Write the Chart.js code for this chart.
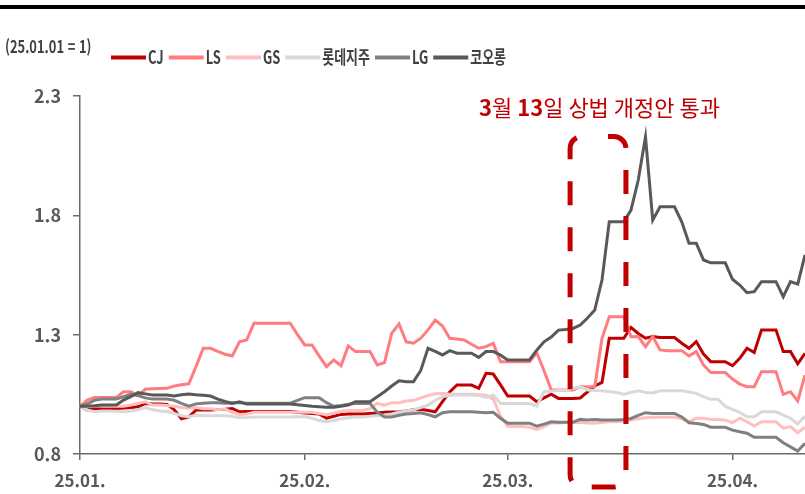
<!DOCTYPE html>
<html lang="ko">
<head>
<meta charset="utf-8">
<script src="https://cdn.jsdelivr.net/npm/chart.js@4.4.1/dist/chart.umd.min.js"></script>
<style>
  html, body { margin: 0; padding: 0; background: #fff; }
</style>
</head>
<body>
<canvas id="chart" width="805" height="494"></canvas>
<script>
const ctx = document.querySelector('#chart')

// daily axis 25.01.01 ~ 25.04.11 (holidays / weekends carry the last close)
const days = []
for (let i = 0; i < 101; i++) {
    const d = new Date(2025, 0, 1 + i)
    const mm = String(d.getMonth() + 1).padStart(2, '0')
    const dd = String(d.getDate()).padStart(2, '0')
    days.push('25.' + mm + '.' + dd)
}

const names = ['CJ', 'LS', 'GS', '롯데지주', 'LG', '코오롱']
const colors = ['#C00000', '#FF7C80', '#FFBFBF', '#D9D9D9', '#808080', '#595959']

const cj = [1.000,0.985,0.990,0.991,0.991,0.991,0.993,0.995,0.998,1.012,
    1.010,1.010,1.008,0.985,0.947,0.955,0.984,0.984,0.984,0.986,
    0.988,0.991,0.977,0.978,0.978,0.978,0.978,0.978,0.978,0.978,
    0.975,0.972,0.970,0.968,0.950,0.958,0.966,0.968,0.968,0.968,
    0.970,0.972,0.975,0.976,0.977,0.980,0.985,0.987,0.982,0.977,
    1.019,1.060,1.089,1.089,1.089,1.075,1.138,1.135,1.090,1.043,
    1.043,1.043,1.043,1.019,1.035,1.051,1.033,1.033,1.033,1.035,
    1.060,1.085,1.100,1.285,1.285,1.285,1.330,1.305,1.285,1.292,
    1.288,1.288,1.288,1.264,1.243,1.271,1.219,1.187,1.187,1.187,
    1.170,1.201,1.243,1.225,1.320,1.320,1.320,1.229,1.229,1.178,
    1.222]

const ls = [1.000,1.026,1.037,1.037,1.037,1.037,1.061,1.061,1.045,1.071,
    1.073,1.074,1.075,1.085,1.090,1.094,1.166,1.243,1.243,1.230,
    1.218,1.211,1.270,1.278,1.348,1.348,1.348,1.348,1.348,1.348,
    1.300,1.257,1.257,1.210,1.166,1.194,1.170,1.253,1.229,1.229,
    1.229,1.173,1.183,1.306,1.345,1.270,1.264,1.285,1.320,1.361,
    1.336,1.285,1.282,1.278,1.260,1.243,1.250,1.264,1.187,1.187,
    1.187,1.187,1.187,1.224,1.150,1.068,1.068,1.068,1.068,1.082,
    1.082,1.082,1.285,1.375,1.375,1.375,1.291,1.292,1.250,1.292,
    1.236,1.233,1.233,1.233,1.211,1.229,1.173,1.141,1.141,1.141,
    1.114,1.093,1.082,1.082,1.145,1.145,1.145,1.050,1.061,1.022,
    1.130]

const gs = [1.000,1.000,1.002,1.000,1.000,1.000,1.000,1.005,1.012,1.019,
    1.005,1.005,1.003,1.000,0.995,0.992,0.995,0.990,0.990,0.985,
    0.988,0.975,0.966,0.968,0.975,0.975,0.975,0.975,0.975,0.975,
    0.975,0.975,0.975,0.970,0.965,0.972,0.978,0.982,0.982,0.982,
    0.990,1.012,1.005,1.015,1.015,1.022,1.025,1.035,1.045,1.052,
    1.054,1.050,1.050,1.050,1.050,1.048,1.046,1.030,0.960,0.915,
    0.915,0.915,0.912,0.903,0.915,0.929,0.930,0.932,0.932,0.932,
    0.930,0.929,0.932,0.935,0.935,0.938,0.942,0.948,0.952,0.954,
    0.954,0.954,0.954,0.948,0.935,0.950,0.950,0.945,0.945,0.942,
    0.931,0.950,0.935,0.917,0.935,0.935,0.935,0.908,0.915,0.889,
    0.912]

const lotte = [1.000,0.985,0.977,0.980,0.980,0.979,0.977,0.980,0.985,0.995,
    0.985,0.980,0.978,0.970,0.960,0.956,0.962,0.960,0.960,0.960,
    0.960,0.958,0.952,0.953,0.955,0.955,0.955,0.955,0.955,0.955,
    0.956,0.956,0.950,0.940,0.935,0.940,0.948,0.952,0.955,0.955,
    0.958,0.960,0.963,0.968,0.975,0.980,0.985,0.995,1.005,1.025,
    1.040,1.045,1.047,1.047,1.047,1.045,1.037,1.047,1.012,1.012,
    1.012,1.012,1.012,1.001,1.061,1.063,1.066,1.068,1.075,1.082,
    1.068,1.066,1.065,1.062,1.058,1.051,1.058,1.065,1.058,1.056,
    1.065,1.065,1.065,1.065,1.060,1.054,1.040,1.029,1.029,1.000,
    0.987,0.975,0.956,0.956,0.977,0.977,0.977,0.963,0.950,0.926,
    0.959]

const lg = [1.000,1.010,1.025,1.030,1.030,1.030,1.040,1.050,1.045,1.035,
    1.030,1.030,1.030,1.025,1.012,1.000,1.010,1.013,1.015,1.015,
    1.013,1.015,1.015,1.013,1.013,1.013,1.013,1.013,1.013,1.013,
    1.025,1.036,1.036,1.036,1.015,1.000,1.003,1.008,1.012,1.012,
    1.012,0.975,0.955,0.955,0.962,0.968,0.970,0.973,0.965,0.956,
    0.973,0.977,0.977,0.977,0.977,0.975,0.973,0.975,0.950,0.929,
    0.929,0.929,0.929,0.917,0.925,0.935,0.933,0.933,0.933,0.945,
    0.942,0.945,0.942,0.942,0.942,0.945,0.949,0.962,0.973,0.970,
    0.970,0.970,0.970,0.955,0.931,0.928,0.924,0.912,0.912,0.912,
    0.900,0.893,0.887,0.870,0.870,0.870,0.870,0.847,0.830,0.812,
    0.845]

const kolon = [1.000,1.000,1.002,1.005,1.005,1.005,1.026,1.040,1.057,1.052,
    1.047,1.047,1.047,1.043,1.048,1.051,1.048,1.046,1.043,1.030,
    1.020,1.012,1.019,1.009,1.009,1.009,1.009,1.009,1.009,1.009,
    1.006,1.003,1.000,0.998,0.996,0.996,1.000,1.005,1.019,1.019,
    1.019,1.040,1.061,1.085,1.107,1.103,1.103,1.150,1.243,1.230,
    1.215,1.233,1.222,1.222,1.222,1.205,1.229,1.229,1.215,1.194,
    1.194,1.194,1.194,1.235,1.270,1.290,1.319,1.322,1.326,1.340,
    1.370,1.403,1.529,1.773,1.773,1.773,1.822,1.948,2.129,1.780,
    1.836,1.836,1.836,1.773,1.683,1.683,1.613,1.601,1.601,1.601,
    1.532,1.508,1.476,1.480,1.522,1.522,1.522,1.459,1.522,1.512,
    1.634]

const series = [cj, ls, gs, lotte, lg, kolon]
const yTicks = [0.8, 1.3, 1.8, 2.3]
const baseNote = '(25.01.01 = 1)'
const noteParts = [['3', 'bold'], ['월 ', 'normal'], ['13', 'bold'], ['일 상법 개정안 통과', 'normal']]
const boxRange = [67.6, 75.3]   // around 3/13 on the day axis

const FONT = '"Noto Sans CJK KR", "Noto Sans", sans-serif'
const axisColor = '#6b6b6b'
const textColor = '#595959'
const red = '#C00000'

Chart.defaults.font.family = FONT

function narrowText(c, text, x, y, k) {
    const w = c.measureText(text).width * k
    c.save()
    c.translate(x, y)
    c.scale(k, 1)
    c.fillText(text, 0, 0)
    c.restore()
    return w
}

const headerPlugin = {
    id: 'header',
    afterDraw(chart) {
        const c = chart.ctx
        c.save()
        c.fillStyle = '#000'
        c.fillRect(0, 5, chart.width, 4)

        c.textBaseline = 'middle'
        c.textAlign = 'left'
        c.font = 'bold 17px ' + FONT
        c.fillStyle = '#404040'
        narrowText(c, baseNote, 5, 47, 0.76)

        let x = 111
        c.font = 'bold 18px ' + FONT
        chart.data.datasets.forEach(ds => {
            c.fillStyle = ds.borderColor
            c.fillRect(x, 55.5, 35, 4)
            x += 37
            c.fillStyle = '#404040'
            x += narrowText(c, ds.label, x, 57, 0.72) + 5
        })
        c.restore()
    }
}

const boxPlugin = {
    id: 'lawBox',
    afterDatasetsDraw(chart) {
        const c = chart.ctx
        const xs = chart.scales.x
        const ys = chart.scales.y
        const x0 = xs.getPixelForValue(boxRange[0])
        const x1 = xs.getPixelForValue(boxRange[1])
        const y0 = ys.getPixelForValue(2.13)
        const y1 = chart.chartArea.bottom + 33
        const mid = (x0 + x1) / 2
        const r = 12

        c.save()
        c.strokeStyle = red
        c.lineWidth = 5
        c.setLineDash([24, 22])
        c.lineDashOffset = 36
        c.beginPath()
        c.moveTo(mid, y0)
        c.arcTo(x1, y0, x1, y1, r)
        c.arcTo(x1, y1, x0, y1, r)
        c.arcTo(x0, y1, x0, y0, r)
        c.arcTo(x0, y0, mid, y0, r)
        c.closePath()
        c.stroke()

        // caption
        c.setLineDash([])
        c.fillStyle = red
        c.textBaseline = 'middle'
        c.textAlign = 'left'
        let total = 0
        noteParts.forEach(p => {
            c.font = p[1] + ' 22px ' + FONT
            total += c.measureText(p[0]).width
        })
        let tx = mid + 1.5 - total / 2
        noteParts.forEach(p => {
            c.font = p[1] + ' 22px ' + FONT
            c.fillText(p[0], tx, 108)
            tx += c.measureText(p[0]).width
        })
        c.restore()
    }
}

const datasets = names.map((name, i) => {
    return {
        label: name,
        data: series[i],
        borderColor: colors[i],
        backgroundColor: colors[i],
        borderWidth: 3,
        pointRadius: 0,
        tension: 0,
        order: names.length - i
    }
})

const config = {
    type: 'line',
    data: {
        labels: days,
        datasets: datasets
    },
    options: {
        responsive: false,
        animation: false,
        layout: {
            padding: { top: 96, right: 0, bottom: 0, left: 0 }
        },
        plugins: {
            legend: { display: false },
            tooltip: { enabled: false }
        },
        scales: {
            x: {
                offset: false,
                afterFit: axis => {
                    axis.height = 40
                    axis.paddingRight = 0
                },
                grid: {
                    drawOnChartArea: false,
                    tickLength: 6,
                    lineWidth: 1.5,
                    color: c => (c.tick && c.tick.label) ? axisColor : 'rgba(0,0,0,0)'
                },
                border: { color: axisColor, width: 1.5 },
                ticks: {
                    autoSkip: false,
                    maxRotation: 0,
                    padding: 10,
                    color: textColor,
                    font: { size: 17, weight: 'bold' },
                    callback: function (value) {
                        const lab = this.getLabelForValue(value)
                        return lab.endsWith('.01') ? lab.slice(0, 6) : ''
                    }
                }
            },
            y: {
                min: 0.8,
                max: 2.3,
                afterFit: axis => { axis.width = 80 },
                afterBuildTicks: axis => {
                    axis.ticks = yTicks.map(v => ({ value: v }))
                },
                grid: {
                    drawOnChartArea: false,
                    tickLength: 7,
                    lineWidth: 1.5,
                    color: axisColor
                },
                border: { color: axisColor, width: 1.5 },
                ticks: {
                    padding: 12,
                    color: textColor,
                    font: { size: 18, weight: 'bold' },
                    callback: v => v.toFixed(1)
                }
            }
        }
    },
    plugins: [headerPlugin, boxPlugin]
}

new Chart(ctx, config)
</script>
</body>
</html>
